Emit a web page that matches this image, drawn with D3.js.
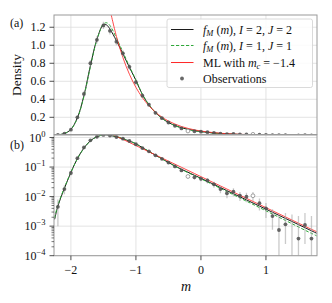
<!DOCTYPE html>
<html>
<head>
<meta charset="utf-8">
<script src="https://cdn.jsdelivr.net/npm/d3@7"></script>
<style>
  body { margin: 0; background: #fff; }
  text { font-family: "Liberation Serif", "Times New Roman", serif; fill: #111; }
</style>
</head>
<body>
<div id="chart"></div>
<script>
// model curves, sampled along m
const curveM = [-2.25, -2.2, -2.1, -2.0, -1.9, -1.8, -1.7, -1.6, -1.5, -1.45, -1.4, -1.3, -1.2, -1.1,
  -1.0, -0.9, -0.8, -0.7, -0.6, -0.5, -0.4, -0.3, -0.2, -0.1, 0.0, 0.1, 0.2, 0.3, 0.4, 0.5,
  0.6, 0.7, 0.8, 0.9, 1.0, 1.1, 1.2, 1.3, 1.4, 1.5, 1.6, 1.7, 1.78];
const fitI2J2 = [0.0017, 0.0048, 0.019, 0.066, 0.195, 0.44, 0.775, 1.065, 1.23, 1.225, 1.18, 1.05, 0.905, 0.755,
  0.61, 0.452, 0.337, 0.252, 0.19, 0.143, 0.109, 0.0841, 0.0668, 0.0527, 0.0417, 0.0327, 0.0258, 0.0202, 0.0159, 0.0125,
  0.00984, 0.00773, 0.00608, 0.00478, 0.00376, 0.00295, 0.00232, 0.00182, 0.00144, 0.00113, 0.000887, 0.000697, 0.000575];
const fitI1J1 = [0.0019, 0.0052, 0.02, 0.066, 0.19, 0.43, 0.76, 1.06, 1.235, 1.25, 1.22, 1.08, 0.925, 0.765,
  0.615, 0.455, 0.34, 0.254, 0.19, 0.142, 0.107, 0.0822, 0.0648, 0.0508, 0.04, 0.0312, 0.0244, 0.019, 0.0148, 0.01155,
  0.009, 0.007, 0.00545, 0.00424, 0.0033, 0.00257, 0.002, 0.00156, 0.00121, 0.00094, 0.00073, 0.00057, 0.00047];

// maximum likelihood exponential, m >= m_c
const mlM = [-1.4, -1.3, -1.2, -1.1, -1.0, -0.9, -0.8, -0.7, -0.6, -0.5, -0.4, -0.3, -0.2, -0.1, 0.0,
  0.1, 0.2, 0.3, 0.4, 0.5, 0.6, 0.7, 0.8, 0.9, 1.0, 1.1, 1.2, 1.3, 1.4, 1.5, 1.6, 1.7, 1.78];
const mlDensity = [1.4, 1.099, 0.863, 0.678, 0.532, 0.418, 0.328, 0.258, 0.202, 0.159, 0.125, 0.098, 0.0769, 0.0604, 0.0474,
  0.0372, 0.0292, 0.023, 0.018, 0.0142, 0.0111, 0.00873, 0.00685, 0.00538, 0.00423, 0.00332, 0.00261, 0.00205, 0.00161,
  0.00126, 0.00099, 0.00078, 0.00065];

// binned observations
const obsM = [-2.2, -2.1, -2.0, -1.9, -1.8, -1.7, -1.6, -1.5, -1.4, -1.3, -1.2, -1.1, -1.0, -0.9, -0.8, -0.7,
  -0.6, -0.5, -0.4, -0.3, -0.2, -0.1, 0.0, 0.1, 0.2, 0.3, 0.4, 0.5, 0.6, 0.7, 0.8, 0.9, 1.0, 1.1, 1.2,
  1.3, 1.4, 1.5, 1.6, 1.7];
const obsDensity = [0.0045, 0.018, 0.063, 0.2, 0.46, 0.8, 1.06, 1.22, 1.16, 1.04, 0.91, 0.76, 0.59, 0.44, 0.34, 0.25,
  0.19, 0.142, 0.105, 0.077, 0.048, 0.045, 0.04, 0.035, 0.026, 0.018, 0.013, 0.0147, 0.0107, 0.0099, 0.0107, 0.006,
  0.004, 0.0022, 0.00074, 0.00115, null, 0.00038, 0.0011, 0.00038];
const obsLow = [0.001, 0.012, 0.052, 0.18, 0.43, 0.765, 1.02, 1.18, 1.12, 1.0, 0.875, 0.725, 0.56, 0.415, 0.318, 0.232,
  0.175, 0.129, 0.094, 0.068, 0.041, 0.038, 0.033, 0.028, 0.02, 0.013, 0.0088, 0.0102, 0.0071, 0.0064, 0.0071, 0.0034,
  0.0019, 0.00075, 0.00008, 0.00025, 0, 0, 0.00025, 0];
const obsHigh = [0.008, 0.024, 0.074, 0.22, 0.49, 0.835, 1.1, 1.26, 1.2, 1.08, 0.945, 0.795, 0.62, 0.465, 0.362, 0.268,
  0.205, 0.155, 0.116, 0.086, 0.055, 0.052, 0.047, 0.042, 0.032, 0.023, 0.0172, 0.0192, 0.0143, 0.0134, 0.0143, 0.0086,
  0.0061, 0.0037, 0.0024, 0.0028, 0.0025, 0.0022, 0.0028, 0.0022];
const obsOpen = [-0.2, 0.8];

const xTicks = [-2, -1, 0, 1];
const linTicks = [0.2, 0.4, 0.6, 0.8, 1.0, 1.2];
const logTicks = [1, 1e-1, 1e-2, 1e-3, 1e-4];
const logExponents = ["0", "\u22121", "\u22122", "\u22123", "\u22124"];

const W = 332, H = 303;
const svg = d3.select("#chart").append("svg").attr("width", W).attr("height", H);

const x = d3.scaleLinear().domain([-2.26, 1.785]).range([54, 317]);
const yA = d3.scaleLinear().domain([0.009, 1.336]).range([134.5, 15]);
const yB = d3.scaleLog().domain([1e-4, 1.215]).range([255.7, 135]);

const gridColor = "#dcdcdc";
const spineColor = "#9a9a9a";
const green = "#2fa83a";

function panel(name, y, ticks, isLog) {
  const [y0, y1] = y.range();
  const g = svg.append("g");
  g.append("clipPath").attr("id", "clip-" + name)
    .append("rect").attr("x", 54).attr("y", y1).attr("width", 263).attr("height", y0 - y1);

  // grid
  g.selectAll(".gx").data(xTicks).join("line")
    .attr("x1", (d) => x(d)).attr("x2", (d) => x(d)).attr("y1", y1).attr("y2", y0)
    .attr("stroke", gridColor).attr("stroke-width", 0.8);
  g.selectAll(".gy").data(ticks).join("line")
    .attr("x1", 54).attr("x2", 317).attr("y1", (d) => y(d)).attr("y2", (d) => y(d))
    .attr("stroke", gridColor).attr("stroke-width", 0.8);

  const plot = g.append("g").attr("clip-path", `url(#clip-${name})`);
  const valid = (v) => v !== null && (!isLog || v > 0);

  const line = (ys) => d3.line()
    .defined((d, i) => valid(ys[i]))
    .x((d) => x(d))
    .y((d, i) => y(ys[i]))
    .curve(d3.curveCatmullRom);

  plot.append("path").attr("d", line(fitI2J2)(curveM))
    .attr("fill", "none").attr("stroke", "#1a1a1a").attr("stroke-width", 1);
  plot.append("path").attr("d", line(fitI1J1)(curveM))
    .attr("fill", "none").attr("stroke", green).attr("stroke-width", 1)
    .attr("stroke-dasharray", "3.2,1.8");
  plot.append("path").attr("d", line(mlDensity)(mlM))
    .attr("fill", "none").attr("stroke", "#ff2a2a").attr("stroke-opacity", 0.85).attr("stroke-width", 1);

  // error bars
  const lowClamp = y.domain()[0];
  plot.selectAll(".err").data(obsM).join("line")
    .attr("x1", (d) => x(d)).attr("x2", (d) => x(d))
    .attr("y1", (d, i) => y(isLog ? Math.max(obsLow[i], lowClamp) : obsLow[i]))
    .attr("y2", (d, i) => y(obsHigh[i]))
    .attr("stroke", "#9e9e9e").attr("stroke-opacity", 0.55).attr("stroke-width", 1.3);

  // markers
  plot.selectAll(".obs").data(obsM.filter((d, i) => valid(obsDensity[i])))
    .join("circle")
    .attr("cx", (d) => x(d))
    .attr("cy", (d) => y(obsDensity[obsM.indexOf(d)]))
    .attr("r", 1.9)
    .attr("fill", (d) => (obsOpen.includes(d) ? "#fff" : "#4d4d4d"))
    .attr("fill-opacity", (d) => (obsOpen.includes(d) ? 1 : 0.85))
    .attr("stroke", (d) => (obsOpen.includes(d) ? "#888" : "none"))
    .attr("stroke-width", 0.8);

  // frame
  g.append("rect").attr("x", 54).attr("y", y1).attr("width", 263).attr("height", y0 - y1)
    .attr("fill", "none").attr("stroke", spineColor).attr("stroke-width", 1);

  // y ticks
  g.selectAll(".ty").data(ticks).join("line")
    .attr("x1", 49.5).attr("x2", 54).attr("y1", (d) => y(d)).attr("y2", (d) => y(d))
    .attr("stroke", "#222").attr("stroke-width", 0.8);

  if (isLog) {
    const minor = y.ticks().filter((d) => !ticks.includes(d));
    g.selectAll(".tm").data(minor).join("line")
      .attr("x1", 51.5).attr("x2", 54).attr("y1", (d) => y(d)).attr("y2", (d) => y(d))
      .attr("stroke", "#222").attr("stroke-width", 0.6);
    const lab = g.selectAll(".ly").data(ticks).join("text")
      .attr("x", 45.5).attr("y", (d) => y(d) + 4.2)
      .attr("text-anchor", "end").attr("font-size", 12);
    lab.append("tspan").text("10");
    lab.append("tspan").attr("dy", -5).attr("font-size", 8.5).text((d, i) => logExponents[i]);
  } else {
    g.selectAll(".ly").data(ticks).join("text")
      .attr("x", 45.5).attr("y", (d) => y(d) + 4.2)
      .attr("text-anchor", "end").attr("font-size", 12)
      .text((d) => d3.format(".1f")(d));
  }
  return g;
}

panel("a", yA, linTicks, false);
const gB = panel("b", yB, logTicks, true);

// x axis on the lower panel
gB.selectAll(".tx").data(xTicks).join("line")
  .attr("x1", (d) => x(d)).attr("x2", (d) => x(d)).attr("y1", 255.7).attr("y2", 260.2)
  .attr("stroke", "#222").attr("stroke-width", 0.8);
gB.selectAll(".lx").data(xTicks).join("text")
  .attr("x", (d) => x(d)).attr("y", 273.5).attr("text-anchor", "middle").attr("font-size", 12)
  .text((d) => (d < 0 ? "\u2212" + Math.abs(d) : d));

svg.append("text").attr("transform", "translate(21,75) rotate(-90)")
  .attr("text-anchor", "middle").attr("font-size", 13.5).text("Density");
svg.append("text").attr("x", 186).attr("y", 290.5).attr("text-anchor", "middle")
  .attr("font-size", 14).attr("font-style", "italic").text("m");
svg.append("text").attr("x", 10).attr("y", 27).attr("font-size", 12).text("(a)");
svg.append("text").attr("x", 10).attr("y", 149).attr("font-size", 12).text("(b)");

// legend
const legendParts = [
  [["f", 1], ["M", 1, 1], [" (", 0], ["m", 1], ["), ", 0], ["I", 1], [" = 2, ", 0], ["J", 1], [" = 2", 0]],
  [["f", 1], ["M", 1, 1], [" (", 0], ["m", 1], ["), ", 0], ["I", 1], [" = 1, ", 0], ["J", 1], [" = 1", 0]],
  [["ML with ", 0], ["m", 1], ["c", 1, 1], [" = \u22121.4", 0]],
  [["Observations", 0]],
];
const legendRows = [29.5, 45.5, 62.5, 78.5];

const leg = svg.append("g");
leg.append("rect").attr("x", 167).attr("y", 19).attr("width", 145.5).attr("height", 68.5).attr("rx", 2)
  .attr("fill", "#fff").attr("fill-opacity", 0.85).attr("stroke", "#d0d0d0").attr("stroke-width", 0.8);

const handles = [
  { stroke: "#1a1a1a" },
  { stroke: green, dash: "3.2,1.8" },
  { stroke: "#ff2a2a" },
];
handles.forEach((h, i) => {
  leg.append("line").attr("x1", 171).attr("x2", 193.5)
    .attr("y1", legendRows[i]).attr("y2", legendRows[i])
    .attr("stroke", h.stroke).attr("stroke-width", 1)
    .attr("stroke-dasharray", h.dash || null);
});
leg.append("circle").attr("cx", 182).attr("cy", legendRows[3]).attr("r", 1.9)
  .attr("fill", "#4d4d4d").attr("fill-opacity", 0.85);

legendParts.forEach((parts, i) => {
  const t = leg.append("text").attr("x", 203).attr("y", legendRows[i] + 4).attr("font-size", 12);
  let shifted = false;
  parts.forEach(([s, it, sub]) => {
    const ts = t.append("tspan").text(s).attr("xml:space", "preserve");
    if (it) ts.attr("font-style", "italic");
    if (sub) {
      ts.attr("font-size", 8.5).attr("dy", 2.5);
      shifted = true;
    } else if (shifted) {
      ts.attr("dy", -2.5);
      shifted = false;
    }
  });
});
</script>
</body>
</html>
